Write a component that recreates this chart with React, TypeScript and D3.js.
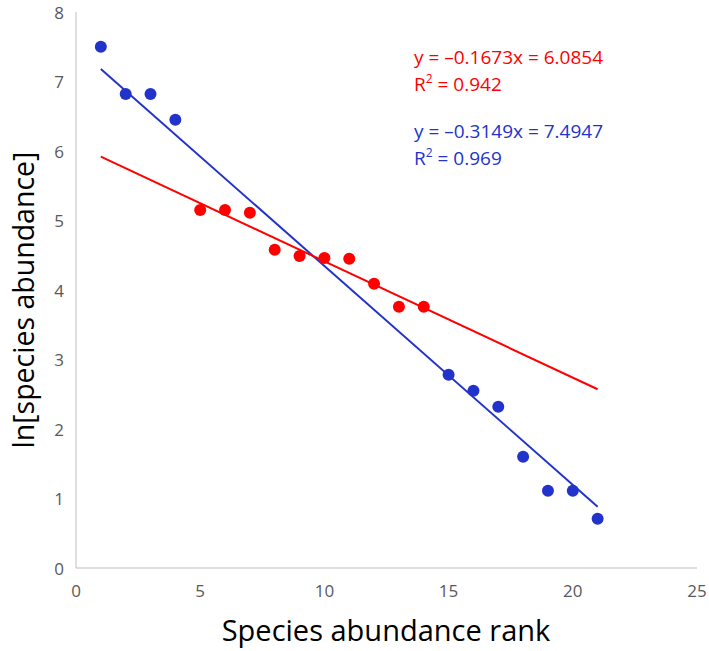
import * as d3 from "d3";

const blueX = [1, 2, 3, 4, 15, 16, 17, 18, 19, 20, 21];
const blueY = [7.5, 6.82, 6.82, 6.45, 2.78, 2.55, 2.32, 1.6, 1.11, 1.11, 0.71];
const redX = [5, 6, 7, 8, 9, 10, 11, 12, 13, 14];
const redY = [5.15, 5.15, 5.11, 4.58, 4.49, 4.46, 4.45, 4.09, 3.76, 3.76];

// trend lines, from the printed equations
const blueFit = { slope: -0.3149, intercept: 7.4947, from: 1, to: 21 };
const redFit = { slope: -0.1673, intercept: 6.0854, from: 1, to: 21 };

const redLabels = ["y = \u20130.1673x = 6.0854", "0.942"];
const blueLabels = ["y = \u20130.3149x = 7.4947", "0.969"];

const xTicks = [0, 5, 10, 15, 20, 25];
const yTicks = [0, 1, 2, 3, 4, 5, 6, 7, 8];

const BLUE = "#2233cc";
const RED = "#ff0000";
const FONT = "'Open Sans', 'Noto Sans', sans-serif";

export default function App() {
  const width = 709;
  const height = 651;
  const x = d3.scaleLinear().domain([0, 25]).range([76, 697]);
  const y = d3.scaleLinear().domain([0, 8]).range([568, 12]);

  const fitLine = (f: typeof blueFit) =>
    d3
      .line<number>()
      .x((d) => x(d))
      .y((d) => y(f.slope * d + f.intercept))([f.from, f.to]) ?? "";

  const label = (lines: string[], color: string, top: number) => (
    <g fill={color} fontFamily={FONT} fontSize={19}>
      <text x={414} y={top}>
        {lines[0]}
      </text>
      <text x={414} y={top + 27}>
        R<tspan dy={-8} fontSize={12}>2</tspan>
        <tspan dy={8}> = {lines[1]}</tspan>
      </text>
    </g>
  );

  return (
    <svg
      width={width}
      height={height}
      style={{ position: "absolute", left: 0, top: 0, background: "#fff" }}
    >
      <line x1={x(0)} x2={x(0)} y1={y(8)} y2={y(0)} stroke="#bfbfbf" strokeWidth={1} />
      <line x1={x(0)} x2={x(25)} y1={y(0)} y2={y(0)} stroke="#bfbfbf" strokeWidth={1} />

      <g fill="#595959" fontFamily={FONT} fontSize={17}>
        {yTicks.map((t) => (
          <text key={"y" + t} x={64} y={y(t)} textAnchor="end" dominantBaseline="central">
            {t}
          </text>
        ))}
        {xTicks.map((t) => (
          <text key={"x" + t} x={x(t)} y={590} textAnchor="middle" dominantBaseline="central">
            {t}
          </text>
        ))}
      </g>

      <path d={fitLine(blueFit)} stroke={BLUE} strokeWidth={2} fill="none" />
      <path d={fitLine(redFit)} stroke={RED} strokeWidth={2} fill="none" />

      {blueX.map((v, i) => (
        <circle key={"b" + i} cx={x(v)} cy={y(blueY[i])} r={6} fill={BLUE} />
      ))}
      {redX.map((v, i) => (
        <circle key={"r" + i} cx={x(v)} cy={y(redY[i])} r={6} fill={RED} />
      ))}

      {label(redLabels, RED, 64)}
      {label(blueLabels, BLUE, 138)}

      <text
        x={386}
        y={641}
        textAnchor="middle"
        fontFamily={FONT}
        fontSize={29}
        fill="#000"
      >
        Species abundance rank
      </text>
      <text
        transform={`translate(34, 300) rotate(-90)`}
        textAnchor="middle"
        fontFamily={FONT}
        fontSize={28.5}
        fill="#000"
      >
        ln[species abundance]
      </text>
    </svg>
  );
}
